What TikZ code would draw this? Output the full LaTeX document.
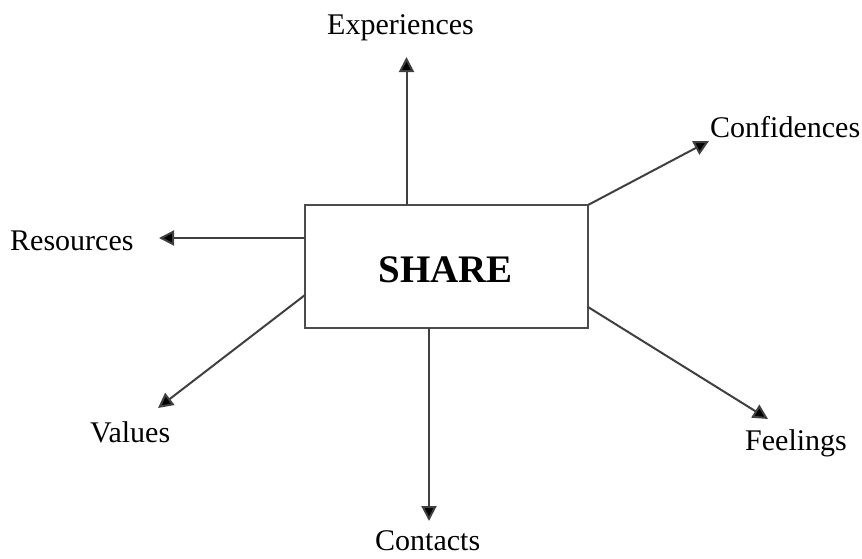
\documentclass[tikz,border=0pt]{standalone}
\usepackage{fontspec}
\setmainfont{Liberation Serif}
\usetikzlibrary{arrows.meta}

\begin{document}
\begin{tikzpicture}[
		x=1pt, y=-1pt,
		% Central box holding the key word
		corebox/.style={draw=black!70, line width=2.5pt, fill=white, minimum width=283pt, minimum height=123pt, inner sep=0pt, outer sep=0pt},
		% Plain text labels at the end of each arrow
		labelstyle/.style={inner sep=0pt, anchor=base west, font=\fontsize{30}{36}\selectfont},
		titlestyle/.style={inner sep=0pt, anchor=base, font=\fontsize{39}{46}\selectfont\bfseries},
		% Connectors with solid triangle heads
		arrowstyle/.style={draw=black!75, line width=2pt, -{Triangle[length=15pt, width=15pt, fill=black]}}
		]
		
		\useasboundingbox (0,0) rectangle (862,558);
		
		% =========================================================================
		% CENTRAL BOX
		% =========================================================================
		\node[corebox] (share) at (446.5,266.5) {};
		\node[titlestyle] (shareText) at (445.5,282) {SHARE};
		
		% =========================================================================
		% LABELS
		% =========================================================================
		\node[labelstyle] (experiences) at (327,34) {Experiences};
		\node[labelstyle] (confidences) at (710,137) {Confidences};
		\node[labelstyle] (resources) at (10,250) {Resources};
		\node[labelstyle] (values) at (90,442) {Values};
		\node[labelstyle] (contacts) at (375,550) {Contacts};
		\node[labelstyle] (feelings) at (745,450) {Feelings};
		
		% Arrow tips, just short of each label
		\coordinate (tipExperiences) at (406.5,57);
		\coordinate (tipConfidences) at (709,141);
		\coordinate (tipResources) at (159,238);
		\coordinate (tipValues) at (158,408);
		\coordinate (tipContacts) at (429,521);
		\coordinate (tipFeelings) at (768,419);
		
		% =========================================================================
		% ARROWS OUT OF THE BOX
		% =========================================================================
		\draw[arrowstyle] ([xshift=-40pt]share.north) -- (tipExperiences);
		\draw[arrowstyle] (share.north east) -- (tipConfidences);
		\draw[arrowstyle] ([yshift=-33pt]share.north west) -- (tipResources);
		\draw[arrowstyle] ([yshift=33pt]share.south west) -- (tipValues);
		\draw[arrowstyle] ([xshift=-17.5pt]share.south) -- (tipContacts);
		\draw[arrowstyle] ([yshift=21pt]share.south east) -- (tipFeelings);
		
	\end{tikzpicture}
\end{document}
